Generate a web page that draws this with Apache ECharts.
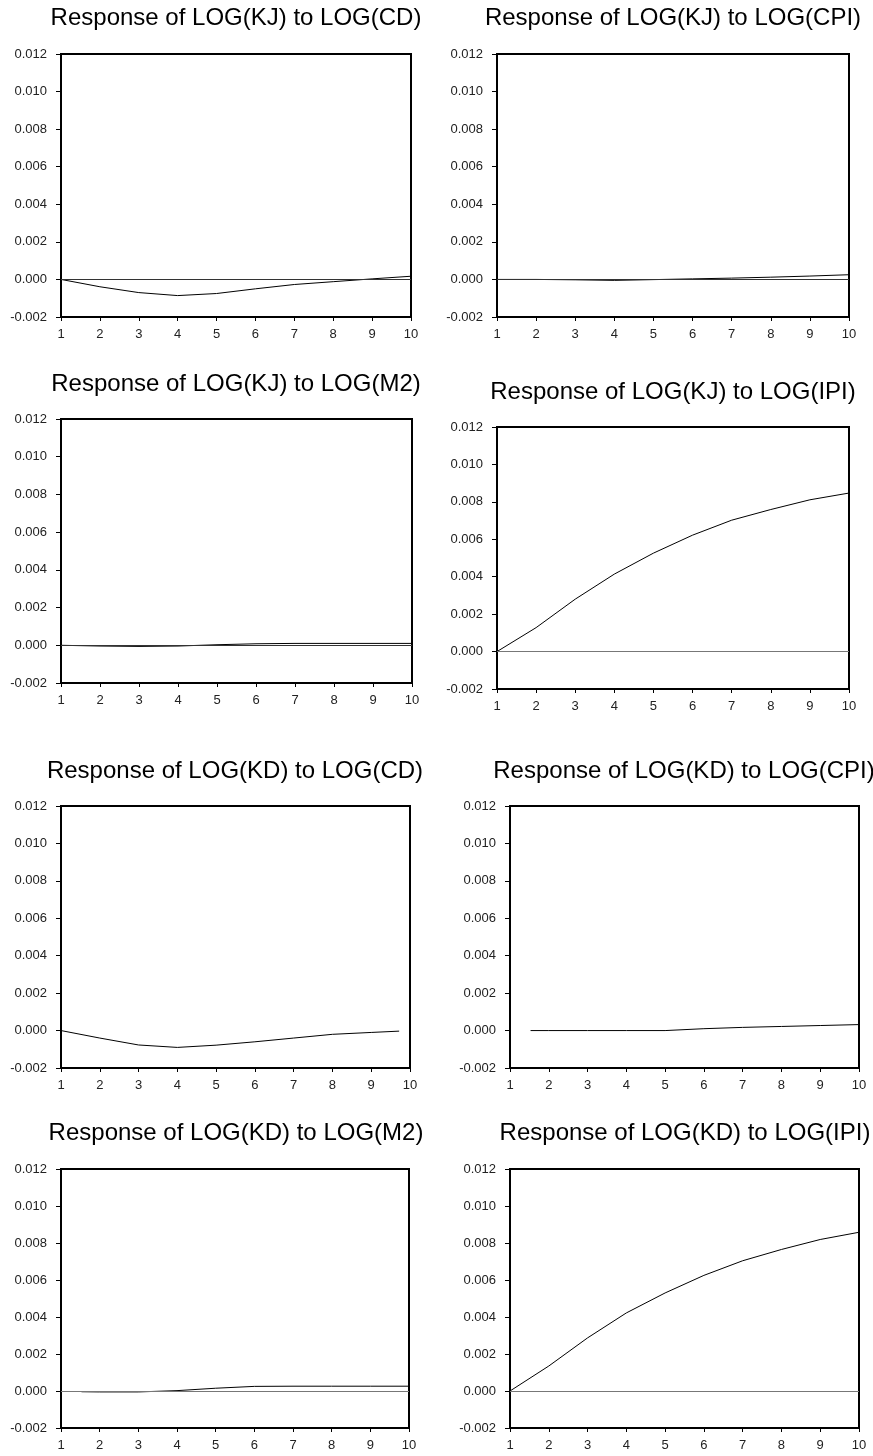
<!DOCTYPE html>
<html>
<head>
<meta charset="utf-8">
<script src="https://cdn.jsdelivr.net/npm/echarts@6/dist/echarts.min.js"></script>
<style>
  html, body { margin: 0; padding: 0; background: #fff; }
  #main { width: 873px; height: 1456px; }
</style>
</head>
<body>
<div id="main"></div>
<script>
// impulse response periods
var periods = [1, 2, 3, 4, 5, 6, 7, 8, 9, 10];

var titles = [
  'Response of LOG(KJ) to LOG(CD)',
  'Response of LOG(KJ) to LOG(CPI)',
  'Response of LOG(KJ) to LOG(M2)',
  'Response of LOG(KJ) to LOG(IPI)',
  'Response of LOG(KD) to LOG(CD)',
  'Response of LOG(KD) to LOG(CPI)',
  'Response of LOG(KD) to LOG(M2)',
  'Response of LOG(KD) to LOG(IPI)'
];

var kjCD  = [0, -0.00039, -0.0007, -0.00086, -0.00075, -0.0005, -0.00027, -0.00012, 0.00003, 0.00017];
var kjCPI = [0, 0, -0.00002, -0.00005, -0.00001, 0.00003, 0.00007, 0.00012, 0.00018, 0.00025];
var kjM2  = [0, -0.00004, -0.00006, -0.00004, 0.00003, 0.00008, 0.0001, 0.0001, 0.0001, 0.0001];
var kjIPI = [0, 0.00128, 0.0028, 0.00414, 0.00526, 0.00622, 0.00702, 0.00759, 0.00811, 0.00847];

// the KD panels are drawn over slightly different ranges in the source
var kdCDx  = [1, 2, 3, 4, 5, 6, 7, 8, 9, 9.72];
var kdCD   = [0, -0.0004, -0.00077, -0.0009, -0.00078, -0.0006, -0.0004, -0.0002, -0.0001, -0.00003];
var kdCPIx = [1.53, 2, 3, 4, 5, 6, 7, 8, 9, 10];
var kdCPI  = [0, 0, 0, 0, 0, 0.0001, 0.00017, 0.00022, 0.00027, 0.00032];
var kdM2x  = [1.53, 2, 3, 4, 5, 6, 7, 8, 9, 10];
var kdM2   = [-0.00004, -0.00005, -0.00005, 0.00002, 0.00015, 0.00025, 0.00026, 0.00026, 0.00026, 0.00026];
var kdIPI  = [0, 0.00135, 0.00287, 0.00422, 0.0053, 0.00625, 0.00704, 0.00765, 0.00819, 0.00858];

var xValues = [periods, periods, periods, periods, kdCDx, kdCPIx, kdM2x, periods];
var yValues = [kjCD, kjCPI, kjM2, kjIPI, kdCD, kdCPI, kdM2, kdIPI];

var yTicks = { min: -0.002, max: 0.012, interval: 0.002 };

// layout of each panel: grid box, title centre/top, zero line colour (null = none)
var panels = [
  { left: 61,  top: 54,   width: 350, height: 263, tx: 236, ty: 6,    zero: '#333' },
  { left: 497, top: 54,   width: 352, height: 263, tx: 673, ty: 6,    zero: '#333' },
  { left: 61,  top: 419,  width: 351, height: 264, tx: 236, ty: 372,  zero: '#333' },
  { left: 497, top: 427,  width: 352, height: 262, tx: 673, ty: 380,  zero: '#777' },
  { left: 61,  top: 806,  width: 349, height: 262, tx: 235, ty: 759,  zero: null },
  { left: 510, top: 806,  width: 349, height: 262, tx: 684, ty: 759,  zero: null },
  { left: 61,  top: 1169, width: 348, height: 259, tx: 236, ty: 1121, zero: '#777' },
  { left: 510, top: 1169, width: 349, height: 259, tx: 685, ty: 1121, zero: '#777' }
];

var font = '"Liberation Sans", Arial, sans-serif';
var option = { animation: false, title: [], grid: [], xAxis: [], yAxis: [], series: [] };

panels.forEach(function (p, i) {
  option.title.push({
    text: titles[i],
    left: p.tx,
    top: p.ty,
    padding: 0,
    textAlign: 'center',
    textStyle: { fontFamily: font, fontSize: 24, fontWeight: 'normal', color: '#000' }
  });
  option.grid.push({
    left: p.left, top: p.top, width: p.width, height: p.height,
    show: true, borderColor: '#000', borderWidth: 2, backgroundColor: '#fff'
  });
  option.xAxis.push({
    type: 'value', gridIndex: i,
    min: 1, max: 10, interval: 1,
    splitLine: { show: false },
    axisLine: { show: false, onZero: false },
    axisTick: { show: true, length: 4, lineStyle: { color: '#000' } },
    axisLabel: { margin: 11, color: '#222', fontSize: 13, fontFamily: font }
  });
  option.yAxis.push({
    type: 'value', gridIndex: i,
    min: yTicks.min, max: yTicks.max, interval: yTicks.interval,
    splitLine: { show: false },
    axisLine: { show: false, onZero: false },
    axisTick: { show: true, length: 5, lineStyle: { color: '#000' } },
    axisLabel: {
      margin: 14, color: '#222', fontSize: 13, fontFamily: font,
      formatter: function (v) { return v.toFixed(3); }
    }
  });
  var s = {
    type: 'line',
    xAxisIndex: i, yAxisIndex: i,
    data: xValues[i].map(function (x, k) { return [x, yValues[i][k]]; }),
    showSymbol: false,
    lineStyle: { color: '#000', width: 1 },
    z: 3
  };
  if (p.zero) {
    s.markLine = {
      silent: true,
      symbol: ['none', 'none'],
      label: { show: false },
      lineStyle: { color: p.zero, width: 1, type: 'solid' },
      data: [{ yAxis: 0 }]
    };
  }
  option.series.push(s);
});

var myChart = echarts.init(document.getElementById('main'));
myChart.setOption(option);
</script>
</body>
</html>
